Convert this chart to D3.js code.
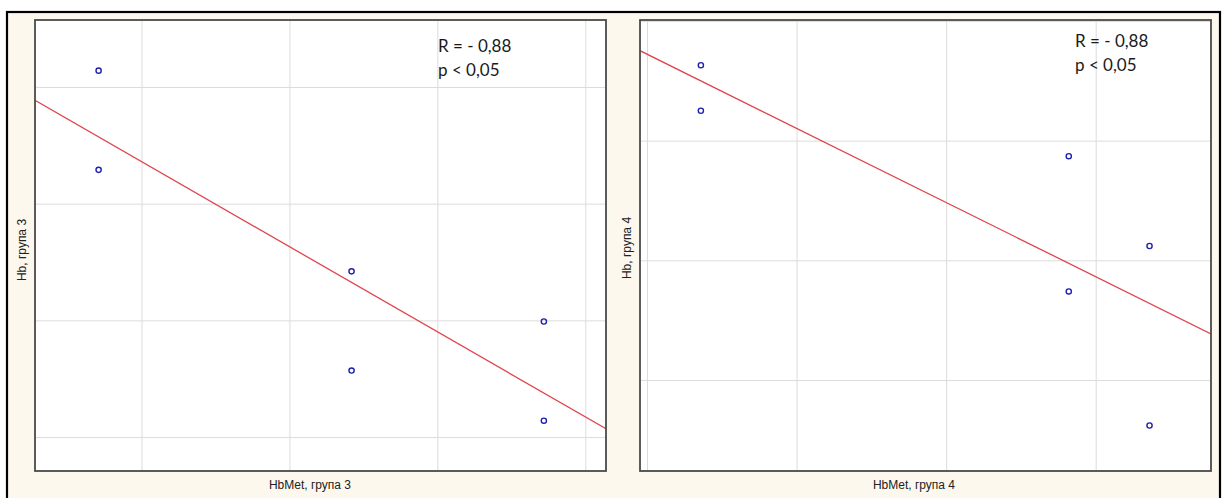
<!DOCTYPE html>
<html>
<head>
<meta charset="utf-8">
<script src="https://cdn.jsdelivr.net/npm/d3@7"></script>
<style>
  html, body { margin: 0; padding: 0; background: #ffffff; }
  svg { display: block; }
</style>
</head>
<body>
<svg id="chart" width="1222" height="498"></svg>
<script>
// Group 3: methaemoglobin vs haemoglobin
const hbMet3 = [0.71, 0.71, 2.42, 2.42, 3.72, 3.72];
const hb3    = [4.14, 3.29, 2.42, 1.57, 1.99, 1.14];
// Group 4: methaemoglobin vs haemoglobin
const hbMet4 = [1.36, 1.36, 3.82, 3.82, 4.36, 4.36];
const hb4    = [3.63, 3.25, 2.87, 1.74, 2.12, 0.62];

const gridTicks = [1, 2, 3, 4];
const xTitles = ["HbMet, група 3", "HbMet, група 4"];
const yTitles = ["Hb, група 3", "Hb, група 4"];
const statLines = ["R = - 0,88", "p < 0,05"];

const panels = [
  { xs: hbMet3, ys: hb3, xDom: [0.28, 4.14], yDom: [0.709, 4.574],
    box: { x0: 35, x1: 606, y0: 20, y1: 471 },
    xTitle: xTitles[0], yTitle: yTitles[0],
    xTitleAt: 310, yTitleAt: [22, 250], statAt: [438, 52] },
  { xs: hbMet4, ys: hb4, xDom: [0.953, 4.771], yDom: [0.240, 4.008],
    box: { x0: 640, x1: 1211, y0: 20, y1: 471 },
    xTitle: xTitles[1], yTitle: yTitles[1],
    xTitleAt: 914, yTitleAt: [627, 248], statAt: [1075, 47] }
];

const svg = d3.select("#chart");

// cream frame with a black outline on top/left/right
svg.append("rect").attr("x", 7).attr("y", 12).attr("width", 1213).attr("height", 500)
  .attr("fill", "#fcf8ee").attr("stroke", "#000").attr("stroke-width", 2.2);

// ordinary least squares fit
function fit(xs, ys) {
  const mx = d3.mean(xs), my = d3.mean(ys);
  let sxy = 0, sxx = 0;
  xs.forEach((x, i) => { sxy += (x - mx) * (ys[i] - my); sxx += (x - mx) * (x - mx); });
  const b = sxy / sxx;
  return { b, a: my - b * mx };
}

panels.forEach((p, k) => {
  const { box } = p;
  const x = d3.scaleLinear().domain(p.xDom).range([box.x0, box.x1]);
  const y = d3.scaleLinear().domain(p.yDom).range([box.y1, box.y0]);
  const g = svg.append("g");

  g.append("rect").attr("x", box.x0).attr("y", box.y0)
    .attr("width", box.x1 - box.x0).attr("height", box.y1 - box.y0)
    .attr("fill", "#ffffff");

  const clipId = "clip" + k;
  g.append("clipPath").attr("id", clipId).append("rect")
    .attr("x", box.x0).attr("y", box.y0)
    .attr("width", box.x1 - box.x0).attr("height", box.y1 - box.y0);

  // gridlines through the axis generators, labels hidden
  g.append("g").attr("transform", `translate(0,${box.y1})`)
    .call(d3.axisBottom(x).tickValues(gridTicks).tickSize(-(box.y1 - box.y0)).tickFormat(""))
    .call(s => s.select(".domain").remove())
    .call(s => s.selectAll("line").attr("stroke", "#dcdcdc").attr("stroke-width", 1));
  g.append("g").attr("transform", `translate(${box.x0},0)`)
    .call(d3.axisLeft(y).tickValues(gridTicks).tickSize(-(box.x1 - box.x0)).tickFormat(""))
    .call(s => s.select(".domain").remove())
    .call(s => s.selectAll("line").attr("stroke", "#dcdcdc").attr("stroke-width", 1));

  // regression line
  const { a, b } = fit(p.xs, p.ys);
  g.append("line").attr("clip-path", `url(#${clipId})`)
    .attr("x1", x(p.xDom[0])).attr("y1", y(a + b * p.xDom[0]))
    .attr("x2", x(p.xDom[1])).attr("y2", y(a + b * p.xDom[1]))
    .attr("stroke", "#e0444c").attr("stroke-width", 1.3);

  // observations
  g.selectAll("circle").data(p.xs.map((v, i) => [v, p.ys[i]])).join("circle")
    .attr("cx", d => x(d[0])).attr("cy", d => y(d[1])).attr("r", 2.6)
    .attr("fill", "none").attr("stroke", "#1f1fb0").attr("stroke-width", 1.4);

  // plot border
  g.append("rect").attr("x", box.x0).attr("y", box.y0)
    .attr("width", box.x1 - box.x0).attr("height", box.y1 - box.y0)
    .attr("fill", "none").attr("stroke", "#4a4a4a").attr("stroke-width", 1.8);

  // correlation note
  const t = g.append("text").attr("x", p.statAt[0]).attr("y", p.statAt[1])
    .attr("font-family", "Lato, 'Open Sans', sans-serif").attr("font-size", 17).attr("fill", "#1a1a1a");
  statLines.forEach((s, i) => t.append("tspan").attr("x", p.statAt[0]).attr("dy", i ? 24 : 0).text(s));

  // axis titles
  g.append("text").attr("x", p.xTitleAt).attr("y", 489).attr("text-anchor", "middle")
    .attr("font-family", "'Liberation Sans', Arial, sans-serif").attr("font-size", 12).attr("fill", "#222")
    .text(p.xTitle);
  g.append("text").attr("transform", `translate(${p.yTitleAt[0] + 4},${p.yTitleAt[1]}) rotate(-90)`)
    .attr("text-anchor", "middle")
    .attr("font-family", "'Liberation Sans', Arial, sans-serif").attr("font-size", 12).attr("fill", "#222")
    .text(p.yTitle);
});
</script>
</body>
</html>
